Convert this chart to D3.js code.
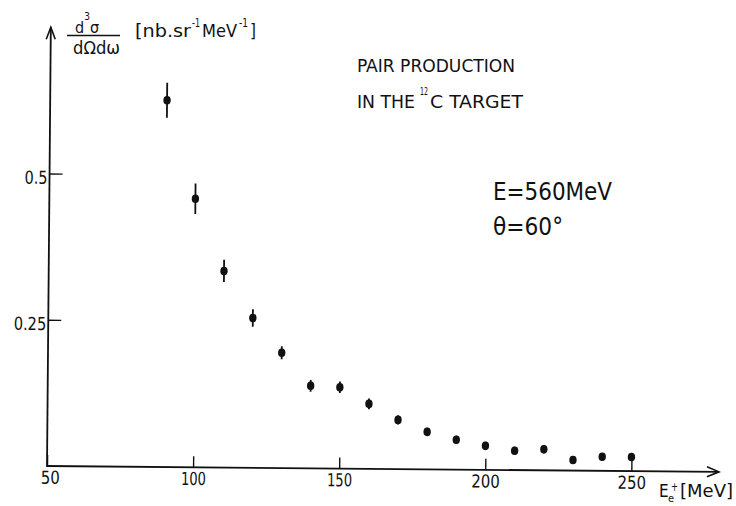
<!DOCTYPE html>
<html>
<head>
<meta charset="utf-8">
<script src="https://cdn.jsdelivr.net/npm/d3@7"></script>
<style>
  html, body { margin: 0; padding: 0; background: #fff; }
  svg { display: block; }
  text { font-family: "DejaVu Sans Condensed", "DejaVu Sans", sans-serif; fill: #111; }
</style>
</head>
<body>
<svg id="chart" width="736" height="506"></svg>
<script>
// Positron energy E_e+ (MeV)
const energies = [90, 100, 110, 120, 130, 140, 150, 160, 170, 180, 190, 200, 210, 220, 230, 240, 250];
// Triple differential cross section (nb sr^-1 MeV^-1)
const crossSections = [0.627, 0.459, 0.336, 0.256, 0.197, 0.141, 0.139, 0.111, 0.084, 0.064, 0.051, 0.041, 0.033, 0.036, 0.018, 0.024, 0.024];
// Statistical errors (half-width)
const errors = [0.030, 0.026, 0.019, 0.015, 0.011, 0.010, 0.010, 0.009, 0.008, 0.007, 0.007, 0.007, 0.007, 0.007, 0.006, 0.006, 0.006];
const xTicks = [50, 100, 150, 200, 250];
const yTicks = [0.25, 0.5];
const yTickLabels = ["0.25", "0.5"];

const svg = d3.select("#chart");
const ink = "#111";

const x = d3.scaleLinear().domain([50, 280]).range([47, 719]);
const y = d3.scaleLinear().domain([0, 0.75]).range([466, 27.25]);

// narrow lettering for the numerals
const glyphWidth = ch => ch === "1" ? 6 : ch === "." ? 5 : 9.5;
const labelWidth = s => s.split("").reduce((a, c) => a + glyphWidth(c), 0);

// the whole plot frame sits slightly skewed on the page
const plot = svg.append("g").attr("transform", "rotate(0.5, 47, 466)");

// x axis: ticks pointing up into the plot, labels below
const xAxis = plot.append("g")
  .attr("transform", `translate(0,${y(0)})`)
  .call(d3.axisBottom(x).tickValues(xTicks).tickSize(-11).tickPadding(5).tickFormat(d3.format("d")));
xAxis.select(".domain").remove();
xAxis.selectAll(".tick line").attr("stroke", ink).attr("stroke-width", 1.4);
xAxis.selectAll(".tick text")
  .attr("font-size", 18).attr("fill", ink)
  .attr("font-family", "'DejaVu Sans Condensed', 'DejaVu Sans', sans-serif")
  .attr("textLength", function () { return labelWidth(this.textContent); })
  .attr("lengthAdjust", "spacingAndGlyphs");
xAxis.selectAll(".tick").filter(d => d === 50).select("text").attr("dx", 3);

// y axis: ticks pointing right, labels on the left
const yAxis = plot.append("g")
  .attr("transform", `translate(${x(50)},0)`)
  .call(d3.axisLeft(y).tickValues(yTicks).tickSize(-13).tickPadding(2)
    .tickFormat((d, i) => yTickLabels[i]));
yAxis.select(".domain").remove();
yAxis.selectAll(".tick line").attr("stroke", ink).attr("stroke-width", 1.4);
yAxis.selectAll(".tick text")
  .attr("font-size", 18).attr("fill", ink).attr("dy", "0.55em")
  .attr("font-family", "'DejaVu Sans Condensed', 'DejaVu Sans', sans-serif")
  .attr("textLength", function () { return labelWidth(this.textContent) - 1; })
  .attr("lengthAdjust", "spacingAndGlyphs");

// axis lines with open arrow heads
const x0 = x(50), y0 = y(0), xEnd = x(280), yEnd = y(0.75);
plot.append("line").attr("x1", x0).attr("y1", y0).attr("x2", xEnd).attr("y2", y0)
  .attr("stroke", ink).attr("stroke-width", 1.8);
plot.append("line").attr("x1", x0).attr("y1", y0 + 1).attr("x2", x0).attr("y2", yEnd)
  .attr("stroke", ink).attr("stroke-width", 1.8);
plot.append("path")
  .attr("d", `M${xEnd - 12},${y0 - 5}L${xEnd},${y0}L${xEnd - 12},${y0 + 5}`)
  .attr("fill", "none").attr("stroke", ink).attr("stroke-width", 1.6);
plot.append("path")
  .attr("d", `M${x0 - 4.5},${yEnd + 12}L${x0},${yEnd}L${x0 + 4.5},${yEnd + 12}`)
  .attr("fill", "none").attr("stroke", ink).attr("stroke-width", 1.6);

// data points with error bars
const pts = energies.map((e, i) => ({ e, v: crossSections[i], err: errors[i] }));
const pg = plot.append("g");
pg.selectAll("line.err").data(pts).join("line")
  .attr("class", "err")
  .attr("x1", d => x(d.e)).attr("x2", d => x(d.e))
  .attr("y1", d => y(d.v + d.err)).attr("y2", d => y(d.v - d.err))
  .attr("stroke", ink).attr("stroke-width", 1.8);
pg.selectAll("ellipse").data(pts).join("ellipse")
  .attr("cx", d => x(d.e)).attr("cy", d => y(d.v))
  .attr("rx", 3.7).attr("ry", 4.3)
  .attr("fill", ink);

// y axis quantity: d3σ / dΩdω [nb.sr-1 MeV-1]
const num = svg.append("text").attr("x", 75).attr("y", 33).attr("font-size", 16);
num.append("tspan").text("d");
num.append("tspan").attr("dy", -13).attr("font-size", 10).text("3");
num.append("tspan").attr("dy", 13).text("σ");
svg.append("line").attr("x1", 67).attr("x2", 120).attr("y1", 35.5).attr("y2", 35.5)
  .attr("stroke", ink).attr("stroke-width", 1.3);
svg.append("text").attr("x", 73).attr("y", 54).attr("font-size", 17)
  .attr("textLength", 47).attr("lengthAdjust", "spacingAndGlyphs").text("dΩdω");

const unitPart = (txt, xp, yp, size, w) => svg.append("text")
  .attr("x", xp).attr("y", yp).attr("font-size", size)
  .attr("textLength", w).attr("lengthAdjust", "spacingAndGlyphs").text(txt);
unitPart("[nb.sr", 135, 37, 17, 56);
unitPart("-1", 192, 27, 12, 8);
unitPart("MeV", 202, 37, 17, 35);
unitPart("-1", 239, 27, 12, 9);
unitPart("]", 250, 37, 17, 6);

// x axis quantity: E_e+ [MeV]
svg.append("text").attr("x", 659).attr("y", 497).attr("font-size", 17).text("E");
svg.append("text").attr("x", 668).attr("y", 502).attr("font-size", 11).text("e");
svg.append("text").attr("x", 671).attr("y", 491).attr("font-size", 12)
  .attr("textLength", 7).attr("lengthAdjust", "spacingAndGlyphs").text("+");
svg.append("text").attr("x", 680).attr("y", 497).attr("font-size", 17)
  .attr("textLength", 53).attr("lengthAdjust", "spacingAndGlyphs").text("[MeV]");

// annotations
svg.append("text").attr("x", 357).attr("y", 72).attr("font-size", 18)
  .attr("textLength", 158).attr("lengthAdjust", "spacingAndGlyphs").text("PAIR PRODUCTION");
svg.append("text").attr("x", 357).attr("y", 108).attr("font-size", 18)
  .attr("textLength", 58).attr("lengthAdjust", "spacingAndGlyphs").text("IN THE");
svg.append("text").attr("x", 420).attr("y", 95).attr("font-size", 10)
  .attr("textLength", 8).attr("lengthAdjust", "spacingAndGlyphs").text("12");
svg.append("text").attr("x", 430).attr("y", 108).attr("font-size", 18)
  .attr("textLength", 93).attr("lengthAdjust", "spacingAndGlyphs").text("C TARGET");

svg.append("text").attr("x", 493).attr("y", 200).attr("font-size", 25)
  .attr("textLength", 119).attr("lengthAdjust", "spacingAndGlyphs").text("E=560MeV");
svg.append("text").attr("x", 493).attr("y", 235).attr("font-size", 25)
  .attr("textLength", 70).attr("lengthAdjust", "spacingAndGlyphs").text("θ=60°");
</script>
</body>
</html>
